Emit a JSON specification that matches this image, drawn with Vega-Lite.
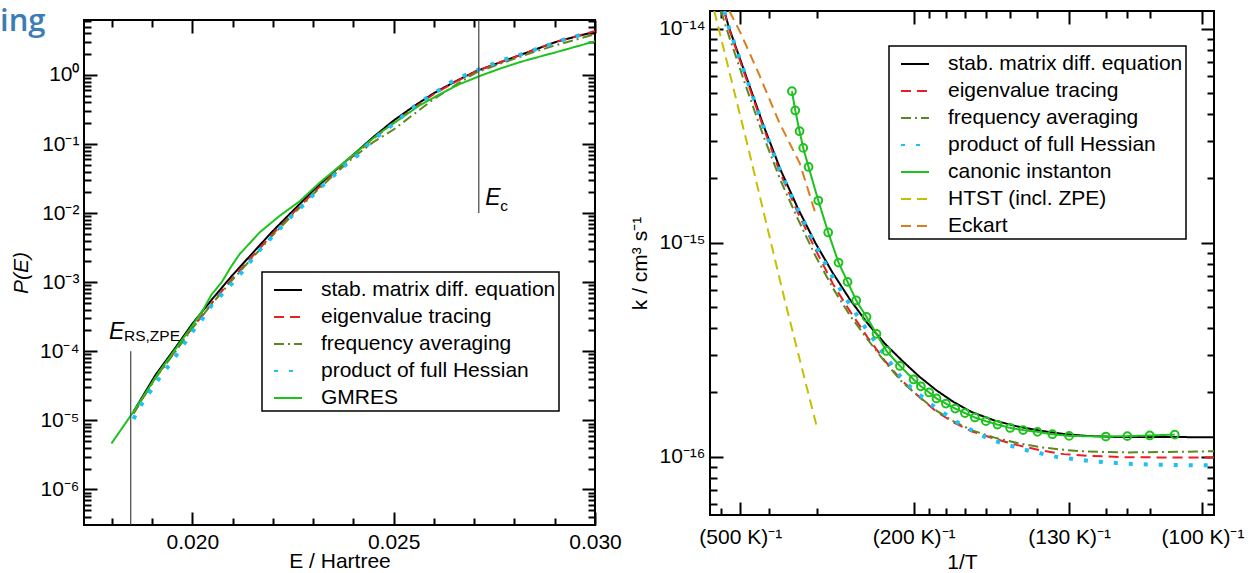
{
  "$schema": "https://vega.github.io/schema/vega-lite/v6.json",
  "padding": {"left": 0, "top": 6, "right": 0, "bottom": 0},
  "spacing": 5,
  "resolve": {"scale": {"color": "independent", "strokeDash": "independent"}, "legend": {"color": "independent", "strokeDash": "independent"}},
  "config": {
    "font": "Liberation Sans",
    "view": {"stroke": "#000", "strokeWidth": 2},
    "axis": {"grid": false, "domain": false, "minExtent": 0, "tickColor": "#000", "tickWidth": 2, "labelFont": "Liberation Sans", "labelFontSize": 21, "labelColor": "#000", "titleFont": "Liberation Sans", "titleFontSize": 21, "titleFontWeight": "normal", "titleColor": "#000", "labelFlush": false, "labelOverlap": false, "labelBound": false},
    "legend": {"padding": 3, "strokeColor": "#000", "strokeWidth": 1.5, "fillColor": "#fff", "cornerRadius": 0, "symbolType": "stroke", "symbolSize": 784, "symbolStrokeWidth": 2, "symbolOffset": 8, "labelFont": "Liberation Sans", "labelFontSize": 21, "labelColor": "#000", "labelOffset": 18, "labelLimit": 400, "rowPadding": 2}
  },
  "datasets": {
    "left": [
      {"s":"stab. matrix diff. equation","E":0.018539,"P":1.340e-5},
      {"s":"stab. matrix diff. equation","E":0.019085,"P":4.539e-5},
      {"s":"stab. matrix diff. equation","E":0.019583,"P":1.132e-4},
      {"s":"stab. matrix diff. equation","E":0.020,"P":2.500e-4},
      {"s":"stab. matrix diff. equation","E":0.020477,"P":5.534e-4},
      {"s":"stab. matrix diff. equation","E":0.020974,"P":1.222e-3},
      {"s":"stab. matrix diff. equation","E":0.021471,"P":2.541e-3},
      {"s":"stab. matrix diff. equation","E":0.021968,"P":5.272e-3},
      {"s":"stab. matrix diff. equation","E":0.022465,"P":1.033e-2},
      {"s":"stab. matrix diff. equation","E":0.023012,"P":2.148e-2},
      {"s":"stab. matrix diff. equation","E":0.023509,"P":3.945e-2},
      {"s":"stab. matrix diff. equation","E":0.024006,"P":7.079e-2},
      {"s":"stab. matrix diff. equation","E":0.024503,"P":0.1274},
      {"s":"stab. matrix diff. equation","E":0.025,"P":0.2188},
      {"s":"stab. matrix diff. equation","E":0.025497,"P":0.3508},
      {"s":"stab. matrix diff. equation","E":0.025994,"P":0.5433},
      {"s":"stab. matrix diff. equation","E":0.026491,"P":0.7834},
      {"s":"stab. matrix diff. equation","E":0.027038,"P":1.130},
      {"s":"stab. matrix diff. equation","E":0.027535,"P":1.442},
      {"s":"stab. matrix diff. equation","E":0.028032,"P":1.841},
      {"s":"stab. matrix diff. equation","E":0.028529,"P":2.350},
      {"s":"stab. matrix diff. equation","E":0.029026,"P":2.999},
      {"s":"stab. matrix diff. equation","E":0.029523,"P":3.597},
      {"s":"stab. matrix diff. equation","E":0.030,"P":4.217},
      {"s":"eigenvalue tracing","E":0.018539,"P":1.259e-5},
      {"s":"eigenvalue tracing","E":0.019085,"P":4.169e-5},
      {"s":"eigenvalue tracing","E":0.019583,"P":1.023e-4},
      {"s":"eigenvalue tracing","E":0.020,"P":2.188e-4},
      {"s":"eigenvalue tracing","E":0.020477,"P":4.898e-4},
      {"s":"eigenvalue tracing","E":0.020974,"P":1.096e-3},
      {"s":"eigenvalue tracing","E":0.021471,"P":2.291e-3},
      {"s":"eigenvalue tracing","E":0.021968,"P":4.786e-3},
      {"s":"eigenvalue tracing","E":0.022465,"P":9.550e-3},
      {"s":"eigenvalue tracing","E":0.023012,"P":1.995e-2},
      {"s":"eigenvalue tracing","E":0.023509,"P":3.715e-2},
      {"s":"eigenvalue tracing","E":0.024006,"P":6.761e-2},
      {"s":"eigenvalue tracing","E":0.024503,"P":0.1202},
      {"s":"eigenvalue tracing","E":0.025,"P":0.2042},
      {"s":"eigenvalue tracing","E":0.025497,"P":0.3311},
      {"s":"eigenvalue tracing","E":0.025994,"P":0.5248},
      {"s":"eigenvalue tracing","E":0.026491,"P":0.7674},
      {"s":"eigenvalue tracing","E":0.027038,"P":1.122},
      {"s":"eigenvalue tracing","E":0.027535,"P":1.445},
      {"s":"eigenvalue tracing","E":0.028032,"P":1.841},
      {"s":"eigenvalue tracing","E":0.028529,"P":2.355},
      {"s":"eigenvalue tracing","E":0.029026,"P":3.020},
      {"s":"eigenvalue tracing","E":0.029523,"P":3.631},
      {"s":"eigenvalue tracing","E":0.030,"P":4.315},
      {"s":"frequency averaging","E":0.018539,"P":1.259e-5},
      {"s":"frequency averaging","E":0.019085,"P":4.074e-5},
      {"s":"frequency averaging","E":0.019583,"P":1.0e-4},
      {"s":"frequency averaging","E":0.020,"P":2.138e-4},
      {"s":"frequency averaging","E":0.020477,"P":4.786e-4},
      {"s":"frequency averaging","E":0.020974,"P":1.047e-3},
      {"s":"frequency averaging","E":0.021471,"P":2.188e-3},
      {"s":"frequency averaging","E":0.021968,"P":4.571e-3},
      {"s":"frequency averaging","E":0.022465,"P":9.120e-3},
      {"s":"frequency averaging","E":0.023012,"P":1.905e-2},
      {"s":"frequency averaging","E":0.023509,"P":3.548e-2},
      {"s":"frequency averaging","E":0.024006,"P":6.457e-2},
      {"s":"frequency averaging","E":0.024503,"P":0.1072},
      {"s":"frequency averaging","E":0.025,"P":0.1622},
      {"s":"frequency averaging","E":0.025497,"P":0.2692},
      {"s":"frequency averaging","E":0.025994,"P":0.4467},
      {"s":"frequency averaging","E":0.026491,"P":0.6918},
      {"s":"frequency averaging","E":0.027038,"P":1.072},
      {"s":"frequency averaging","E":0.027535,"P":1.380},
      {"s":"frequency averaging","E":0.028032,"P":1.738},
      {"s":"frequency averaging","E":0.028529,"P":2.188},
      {"s":"frequency averaging","E":0.029026,"P":2.692},
      {"s":"frequency averaging","E":0.029523,"P":3.236},
      {"s":"frequency averaging","E":0.030,"P":3.890},
      {"s":"product of full Hessian","E":0.018539,"P":1.050e-5},
      {"s":"product of full Hessian","E":0.018738,"P":1.710e-5},
      {"s":"product of full Hessian","E":0.018986,"P":2.786e-5},
      {"s":"product of full Hessian","E":0.019235,"P":4.539e-5},
      {"s":"product of full Hessian","E":0.019483,"P":6.950e-5},
      {"s":"product of full Hessian","E":0.019732,"P":1.132e-4},
      {"s":"product of full Hessian","E":0.01998,"P":1.845e-4},
      {"s":"product of full Hessian","E":0.020229,"P":2.825e-4},
      {"s":"product of full Hessian","E":0.020477,"P":4.603e-4},
      {"s":"product of full Hessian","E":0.020775,"P":7.063e-4},
      {"s":"product of full Hessian","E":0.021074,"P":1.081e-3},
      {"s":"product of full Hessian","E":0.021372,"P":1.762e-3},
      {"s":"product of full Hessian","E":0.02162,"P":2.698e-3},
      {"s":"product of full Hessian","E":0.021918,"P":4.140e-3},
      {"s":"product of full Hessian","E":0.022217,"P":6.339e-3},
      {"s":"product of full Hessian","E":0.022515,"P":9.705e-3},
      {"s":"product of full Hessian","E":0.022813,"P":1.400e-2},
      {"s":"product of full Hessian","E":0.023111,"P":2.148e-2},
      {"s":"product of full Hessian","E":0.02341,"P":3.090e-2},
      {"s":"product of full Hessian","E":0.023757,"P":4.742e-2},
      {"s":"product of full Hessian","E":0.024105,"P":6.839e-2},
      {"s":"product of full Hessian","E":0.024404,"P":0.1047},
      {"s":"product of full Hessian","E":0.024751,"P":0.1510},
      {"s":"product of full Hessian","E":0.025099,"P":0.2178},
      {"s":"product of full Hessian","E":0.025398,"P":0.3141},
      {"s":"product of full Hessian","E":0.025746,"P":0.4365},
      {"s":"product of full Hessian","E":0.026143,"P":0.6138},
      {"s":"product of full Hessian","E":0.026491,"P":0.8337},
      {"s":"product of full Hessian","E":0.026889,"P":1.062},
      {"s":"product of full Hessian","E":0.027286,"P":1.309},
      {"s":"product of full Hessian","E":0.027684,"P":1.629},
      {"s":"product of full Hessian","E":0.028082,"P":1.910},
      {"s":"product of full Hessian","E":0.028529,"P":2.350},
      {"s":"product of full Hessian","E":0.028926,"P":2.818},
      {"s":"product of full Hessian","E":0.029324,"P":3.388},
      {"s":"product of full Hessian","E":0.029771,"P":3.963},
      {"s":"GMRES","E":0.017992,"P":4.634e-6},
      {"s":"GMRES","E":0.018509,"P":1.262e-5},
      {"s":"GMRES","E":0.019185,"P":5.129e-5},
      {"s":"GMRES","E":0.020,"P":2.355e-4},
      {"s":"GMRES","E":0.020278,"P":4.074e-4},
      {"s":"GMRES","E":0.020477,"P":6.637e-4},
      {"s":"GMRES","E":0.020726,"P":9.931e-4},
      {"s":"GMRES","E":0.020974,"P":1.718e-3},
      {"s":"GMRES","E":0.021173,"P":2.541e-3},
      {"s":"GMRES","E":0.02167,"P":5.248e-3},
      {"s":"GMRES","E":0.022167,"P":9.120e-3},
      {"s":"GMRES","E":0.022664,"P":1.479e-2},
      {"s":"GMRES","E":0.023161,"P":2.754e-2},
      {"s":"GMRES","E":0.023658,"P":4.786e-2},
      {"s":"GMRES","E":0.024155,"P":8.318e-2},
      {"s":"GMRES","E":0.024652,"P":0.1445},
      {"s":"GMRES","E":0.02515,"P":0.2291},
      {"s":"GMRES","E":0.025646,"P":0.3631},
      {"s":"GMRES","E":0.026143,"P":0.5248},
      {"s":"GMRES","E":0.02664,"P":0.7379},
      {"s":"GMRES","E":0.027137,"P":0.9638},
      {"s":"GMRES","E":0.027634,"P":1.230},
      {"s":"GMRES","E":0.028131,"P":1.531},
      {"s":"GMRES","E":0.028628,"P":1.841},
      {"s":"GMRES","E":0.029125,"P":2.208},
      {"s":"GMRES","E":0.030,"P":3.069}
    ],
    "right": [
      {"s":"stab. matrix diff. equation","x":0.001723,"k":1.213e-14},
      {"s":"stab. matrix diff. equation","x":0.00180,"k":1.023e-14},
      {"s":"stab. matrix diff. equation","x":0.00210,"k":6.026e-15},
      {"s":"stab. matrix diff. equation","x":0.00240,"k":3.548e-15},
      {"s":"stab. matrix diff. equation","x":0.00270,"k":2.188e-15},
      {"s":"stab. matrix diff. equation","x":0.00300,"k":1.445e-15},
      {"s":"stab. matrix diff. equation","x":0.00330,"k":1.0e-15},
      {"s":"stab. matrix diff. equation","x":0.00360,"k":7.244e-16},
      {"s":"stab. matrix diff. equation","x":0.00390,"k":5.433e-16},
      {"s":"stab. matrix diff. equation","x":0.00420,"k":4.217e-16},
      {"s":"stab. matrix diff. equation","x":0.00450,"k":3.388e-16},
      {"s":"stab. matrix diff. equation","x":0.00480,"k":2.818e-16},
      {"s":"stab. matrix diff. equation","x":0.00510,"k":2.371e-16},
      {"s":"stab. matrix diff. equation","x":0.00540,"k":2.042e-16},
      {"s":"stab. matrix diff. equation","x":0.00570,"k":1.799e-16},
      {"s":"stab. matrix diff. equation","x":0.00600,"k":1.622e-16},
      {"s":"stab. matrix diff. equation","x":0.00640,"k":1.479e-16},
      {"s":"stab. matrix diff. equation","x":0.00680,"k":1.387e-16},
      {"s":"stab. matrix diff. equation","x":0.00720,"k":1.324e-16},
      {"s":"stab. matrix diff. equation","x":0.00760,"k":1.279e-16},
      {"s":"stab. matrix diff. equation","x":0.00800,"k":1.253e-16},
      {"s":"stab. matrix diff. equation","x":0.00850,"k":1.239e-16},
      {"s":"stab. matrix diff. equation","x":0.01020,"k":1.236e-16},
      {"s":"eigenvalue tracing","x":0.001723,"k":1.213e-14},
      {"s":"eigenvalue tracing","x":0.00180,"k":1.012e-14},
      {"s":"eigenvalue tracing","x":0.00210,"k":5.888e-15},
      {"s":"eigenvalue tracing","x":0.00240,"k":3.467e-15},
      {"s":"eigenvalue tracing","x":0.00270,"k":2.089e-15},
      {"s":"eigenvalue tracing","x":0.00300,"k":1.380e-15},
      {"s":"eigenvalue tracing","x":0.00330,"k":9.333e-16},
      {"s":"eigenvalue tracing","x":0.00360,"k":6.457e-16},
      {"s":"eigenvalue tracing","x":0.00390,"k":4.786e-16},
      {"s":"eigenvalue tracing","x":0.00420,"k":3.631e-16},
      {"s":"eigenvalue tracing","x":0.00450,"k":2.818e-16},
      {"s":"eigenvalue tracing","x":0.00480,"k":2.269e-16},
      {"s":"eigenvalue tracing","x":0.00510,"k":1.905e-16},
      {"s":"eigenvalue tracing","x":0.00540,"k":1.622e-16},
      {"s":"eigenvalue tracing","x":0.00570,"k":1.445e-16},
      {"s":"eigenvalue tracing","x":0.00600,"k":1.318e-16},
      {"s":"eigenvalue tracing","x":0.00640,"k":1.216e-16},
      {"s":"eigenvalue tracing","x":0.00680,"k":1.135e-16},
      {"s":"eigenvalue tracing","x":0.00720,"k":1.072e-16},
      {"s":"eigenvalue tracing","x":0.00760,"k":1.030e-16},
      {"s":"eigenvalue tracing","x":0.00800,"k":1.012e-16},
      {"s":"eigenvalue tracing","x":0.00870,"k":9.954e-17},
      {"s":"eigenvalue tracing","x":0.01020,"k":9.931e-17},
      {"s":"frequency averaging","x":0.001666,"k":1.213e-14},
      {"s":"frequency averaging","x":0.00180,"k":9.333e-15},
      {"s":"frequency averaging","x":0.00210,"k":5.370e-15},
      {"s":"frequency averaging","x":0.00240,"k":3.162e-15},
      {"s":"frequency averaging","x":0.00270,"k":1.950e-15},
      {"s":"frequency averaging","x":0.00300,"k":1.288e-15},
      {"s":"frequency averaging","x":0.00330,"k":8.710e-16},
      {"s":"frequency averaging","x":0.00360,"k":6.166e-16},
      {"s":"frequency averaging","x":0.00390,"k":4.571e-16},
      {"s":"frequency averaging","x":0.00420,"k":3.548e-16},
      {"s":"frequency averaging","x":0.00450,"k":2.786e-16},
      {"s":"frequency averaging","x":0.00480,"k":2.239e-16},
      {"s":"frequency averaging","x":0.00510,"k":1.905e-16},
      {"s":"frequency averaging","x":0.00540,"k":1.641e-16},
      {"s":"frequency averaging","x":0.00570,"k":1.462e-16},
      {"s":"frequency averaging","x":0.00600,"k":1.334e-16},
      {"s":"frequency averaging","x":0.00640,"k":1.230e-16},
      {"s":"frequency averaging","x":0.00680,"k":1.161e-16},
      {"s":"frequency averaging","x":0.00720,"k":1.109e-16},
      {"s":"frequency averaging","x":0.00760,"k":1.079e-16},
      {"s":"frequency averaging","x":0.00800,"k":1.059e-16},
      {"s":"frequency averaging","x":0.00870,"k":1.049e-16},
      {"s":"frequency averaging","x":0.01020,"k":1.062e-16},
      {"s":"product of full Hessian","x":0.001723,"k":1.213e-14},
      {"s":"product of full Hessian","x":0.00180,"k":1.023e-14},
      {"s":"product of full Hessian","x":0.00210,"k":5.957e-15},
      {"s":"product of full Hessian","x":0.00240,"k":3.508e-15},
      {"s":"product of full Hessian","x":0.00270,"k":2.138e-15},
      {"s":"product of full Hessian","x":0.00300,"k":1.429e-15},
      {"s":"product of full Hessian","x":0.00330,"k":9.772e-16},
      {"s":"product of full Hessian","x":0.00360,"k":6.918e-16},
      {"s":"product of full Hessian","x":0.00390,"k":5.129e-16},
      {"s":"product of full Hessian","x":0.00420,"k":3.890e-16},
      {"s":"product of full Hessian","x":0.00446,"k":3.090e-16},
      {"s":"product of full Hessian","x":0.00484,"k":2.244e-16},
      {"s":"product of full Hessian","x":0.00530,"k":1.762e-16},
      {"s":"product of full Hessian","x":0.00579,"k":1.432e-16},
      {"s":"product of full Hessian","x":0.00631,"k":1.208e-16},
      {"s":"product of full Hessian","x":0.00688,"k":1.086e-16},
      {"s":"product of full Hessian","x":0.00749,"k":9.977e-17},
      {"s":"product of full Hessian","x":0.00807,"k":9.550e-17},
      {"s":"product of full Hessian","x":0.00867,"k":9.290e-17},
      {"s":"product of full Hessian","x":0.00928,"k":9.183e-17},
      {"s":"product of full Hessian","x":0.00986,"k":9.141e-17},
      {"s":"product of full Hessian","x":0.01020,"k":9.120e-17},
      {"s":"canonic instanton","x":0.002894,"k":5.117e-15},
      {"s":"canonic instanton","x":0.002952,"k":4.159e-15},
      {"s":"canonic instanton","x":0.003026,"k":3.327e-15},
      {"s":"canonic instanton","x":0.00309,"k":2.780e-15},
      {"s":"canonic instanton","x":0.003182,"k":2.265e-15},
      {"s":"canonic instanton","x":0.00335,"k":1.578e-15},
      {"s":"canonic instanton","x":0.003522,"k":1.119e-15},
      {"s":"canonic instanton","x":0.003701,"k":8.091e-16},
      {"s":"canonic instanton","x":0.003857,"k":6.577e-16},
      {"s":"canonic instanton","x":0.004007,"k":5.383e-16},
      {"s":"canonic instanton","x":0.004185,"k":4.508e-16},
      {"s":"canonic instanton","x":0.004358,"k":3.758e-16},
      {"s":"canonic instanton","x":0.004531,"k":3.126e-16},
      {"s":"canonic instanton","x":0.004763,"k":2.661e-16},
      {"s":"canonic instanton","x":0.005,"k":2.301e-16},
      {"s":"canonic instanton","x":0.005126,"k":2.138e-16},
      {"s":"canonic instanton","x":0.00527,"k":2.000e-16},
      {"s":"canonic instanton","x":0.005397,"k":1.875e-16},
      {"s":"canonic instanton","x":0.005559,"k":1.774e-16},
      {"s":"canonic instanton","x":0.00572,"k":1.683e-16},
      {"s":"canonic instanton","x":0.005888,"k":1.603e-16},
      {"s":"canonic instanton","x":0.006061,"k":1.528e-16},
      {"s":"canonic instanton","x":0.006251,"k":1.469e-16},
      {"s":"canonic instanton","x":0.006452,"k":1.416e-16},
      {"s":"canonic instanton","x":0.006671,"k":1.365e-16},
      {"s":"canonic instanton","x":0.006896,"k":1.334e-16},
      {"s":"canonic instanton","x":0.007144,"k":1.309e-16},
      {"s":"canonic instanton","x":0.007403,"k":1.276e-16},
      {"s":"canonic instanton","x":0.007692,"k":1.253e-16},
      {"s":"canonic instanton","x":0.008327,"k":1.245e-16},
      {"s":"canonic instanton","x":0.0087,"k":1.250e-16},
      {"s":"canonic instanton","x":0.009088,"k":1.259e-16},
      {"s":"canonic instanton","x":0.009521,"k":1.271e-16},
      {"s":"HTST (incl. ZPE)","x":0.00155,"k":1.213e-14},
      {"s":"HTST (incl. ZPE)","x":0.002126,"k":2.864e-15},
      {"s":"HTST (incl. ZPE)","x":0.002791,"k":5.117e-16},
      {"s":"HTST (incl. ZPE)","x":0.003325,"k":1.380e-16},
      {"s":"Eckart","x":0.00181,"k":1.213e-14},
      {"s":"Eckart","x":0.00199,"k":9.772e-15},
      {"s":"Eckart","x":0.00233,"k":6.095e-15},
      {"s":"Eckart","x":0.00268,"k":3.631e-15},
      {"s":"Eckart","x":0.00303,"k":2.355e-15},
      {"s":"Eckart","x":0.00332,"k":1.324e-15}
    ]
  },
  "hconcat": [
    {
      "vconcat": [
        {
          "width": 511,
          "height": 2,
          "view": {"stroke": null},
          "title": {"text": "ing", "anchor": "start", "frame": "group", "dx": -84, "offset": -32, "fontSize": 31, "font": "Open Sans", "color": "#3b7db4", "fontWeight": 600},
          "data": {"values": [{"t": ""}]},
          "mark": {"type": "text"},
          "encoding": {"text": {"field": "t"}}
        },
        {
          "width": 511,
          "height": 505,
          "resolve": {"axis": {"x": "independent", "y": "independent"}},
          "layer": [
            {
              "data": {"name": "left"},
              "transform": [{"filter": "datum.s !== 'product of full Hessian'"}],
              "mark": {"type": "line", "strokeWidth": 2, "clip": true},
              "encoding": {
                "x": {"field": "E", "type": "quantitative", "scale": {"domain": [0.01731, 0.030], "nice": false, "zero": false},
                      "axis": {"orient": "bottom", "values": [0.02, 0.025, 0.03], "format": ".3f", "tickSize": -13, "labelPadding": 19, "title": "E / Hartree", "titlePadding": -2}},
                "y": {"field": "P", "type": "quantitative", "scale": {"type": "log", "domain": [3.06e-7, 6.24], "nice": false},
                      "axis": {"orient": "left", "values": [1e-6, 1e-5, 1e-4, 0.001, 0.01, 0.1, 1], "tickSize": -13, "labelPadding": 18, "title": "P(E)", "titleFontStyle": "italic", "titlePadding": 8,
                               "labelExpr": "datum.value > 0.5 ? '10⁰' : datum.value > 0.05 ? '10⁻¹' : datum.value > 0.005 ? '10⁻²' : datum.value > 0.0005 ? '10⁻³' : datum.value > 0.00005 ? '10⁻⁴' : datum.value > 0.000005 ? '10⁻⁵' : '10⁻⁶'"}},
                "color": {"field": "s", "type": "nominal",
                          "scale": {"domain": ["stab. matrix diff. equation", "eigenvalue tracing", "frequency averaging", "product of full Hessian", "GMRES"], "range": ["#000000", "#ec1c2a", "#5a8a1e", "#1ec0f5", "#1ec21e"]},
                          "legend": {"orient": "none", "legendX": 178, "legendY": 261, "title": null}},
                "strokeDash": {"field": "s", "type": "nominal",
                          "scale": {"domain": ["stab. matrix diff. equation", "eigenvalue tracing", "frequency averaging", "product of full Hessian", "GMRES"], "range": [[1, 0], [10, 6], [10, 4, 2, 4], [4, 11], [1, 0]]},
                          "legend": {"orient": "none", "legendX": 178, "legendY": 261, "title": null}}
              }
            },
            {
              "data": {"name": "left"},
              "transform": [{"filter": "datum.s === 'product of full Hessian'"}],
              "mark": {"type": "line", "strokeWidth": 4, "strokeCap": "butt", "clip": true},
              "encoding": {
                "x": {"field": "E", "type": "quantitative", "scale": {"domain": [0.01731, 0.030], "nice": false, "zero": false}, "axis": null},
                "y": {"field": "P", "type": "quantitative", "scale": {"type": "log", "domain": [3.06e-7, 6.24], "nice": false}, "axis": null},
                "color": {"field": "s", "type": "nominal",
                          "scale": {"domain": ["stab. matrix diff. equation", "eigenvalue tracing", "frequency averaging", "product of full Hessian", "GMRES"], "range": ["#000000", "#ec1c2a", "#5a8a1e", "#1ec0f5", "#1ec21e"]},
                          "legend": {"orient": "none", "legendX": 178, "legendY": 261, "title": null}},
                "strokeDash": {"field": "s", "type": "nominal",
                          "scale": {"domain": ["stab. matrix diff. equation", "eigenvalue tracing", "frequency averaging", "product of full Hessian", "GMRES"], "range": [[1, 0], [10, 6], [10, 4, 2, 4], [4, 11], [1, 0]]},
                          "legend": {"orient": "none", "legendX": 178, "legendY": 261, "title": null}}
              }
            },
            {
              "data": {"values": [{"E": 0.01847, "P1": 1e-4, "P2": 3.06e-7}, {"E": 0.027114, "P1": 0.01, "P2": 6.24}]},
              "mark": {"type": "rule", "color": "#444", "strokeWidth": 1.2, "clip": true},
              "encoding": {
                "x": {"field": "E", "type": "quantitative", "scale": {"domain": [0.01731, 0.030], "nice": false, "zero": false}, "axis": null},
                "y": {"field": "P1", "type": "quantitative", "scale": {"type": "log", "domain": [3.06e-7, 6.24], "nice": false}, "axis": null},
                "y2": {"field": "P2"}
              }
            },
            {
              "data": {"values": [{"E": 0.017931, "P": 1.507e-4, "t": "E"}, {"E": 0.027273, "P": 0.01324, "t": "E"}]},
              "mark": {"type": "text", "align": "left", "baseline": "alphabetic", "fontStyle": "italic", "fontSize": 23, "font": "Liberation Sans", "color": "#000"},
              "encoding": {
                "x": {"field": "E", "type": "quantitative", "scale": {"domain": [0.01731, 0.030], "nice": false, "zero": false}, "axis": null},
                "y": {"field": "P", "type": "quantitative", "scale": {"type": "log", "domain": [3.06e-7, 6.24], "nice": false}, "axis": null},
                "text": {"field": "t"}
              }
            },
            {
              "data": {"values": [{"E": 0.017931, "P": 1.507e-4, "t": "RS,ZPE"}]},
              "mark": {"type": "text", "align": "left", "baseline": "alphabetic", "fontSize": 15.5, "font": "Liberation Sans", "color": "#000", "dx": 15, "dy": 2},
              "encoding": {
                "x": {"field": "E", "type": "quantitative", "scale": {"domain": [0.01731, 0.030], "nice": false, "zero": false}, "axis": null},
                "y": {"field": "P", "type": "quantitative", "scale": {"type": "log", "domain": [3.06e-7, 6.24], "nice": false}, "axis": null},
                "text": {"field": "t"}
              }
            },
            {
              "data": {"values": [{"E": 0.027273, "P": 0.01324, "t": "c"}]},
              "mark": {"type": "text", "align": "left", "baseline": "alphabetic", "fontSize": 15.5, "font": "Liberation Sans", "color": "#000", "dx": 15, "dy": 6},
              "encoding": {
                "x": {"field": "E", "type": "quantitative", "scale": {"domain": [0.01731, 0.030], "nice": false, "zero": false}, "axis": null},
                "y": {"field": "P", "type": "quantitative", "scale": {"type": "log", "domain": [3.06e-7, 6.24], "nice": false}, "axis": null},
                "text": {"field": "t"}
              }
            },
            {
              "data": {"name": "left"},
              "mark": {"type": "point", "opacity": 0, "size": 1},
              "encoding": {
                "x": {"field": "E", "type": "quantitative", "scale": {"domain": [0.01731, 0.030], "nice": false, "zero": false},
                      "axis": {"orient": "bottom", "values": [0.018, 0.019, 0.021, 0.022, 0.023, 0.024, 0.026, 0.027, 0.028, 0.029], "tickSize": -7, "labels": false, "title": null}},
                "y": {"field": "P", "type": "quantitative", "scale": {"type": "log", "domain": [3.06e-7, 6.24], "nice": false},
                      "axis": {"orient": "left", "values": [4e-7, 5e-7, 6e-7, 7e-7, 8e-7, 9e-7, 2e-6, 3e-6, 4e-6, 5e-6, 6e-6, 7e-6, 8e-6, 9e-6, 2e-5, 3e-5, 4e-5, 5e-5, 6e-5, 7e-5, 8e-5, 9e-5, 2e-4, 3e-4, 4e-4, 5e-4, 6e-4, 7e-4, 8e-4, 9e-4, 0.002, 0.003, 0.004, 0.005, 0.006, 0.007, 0.008, 0.009, 0.02, 0.03, 0.04, 0.05, 0.06, 0.07, 0.08, 0.09, 0.2, 0.3, 0.4, 0.5, 0.6, 0.7, 0.8, 0.9, 2, 3, 4, 5, 6], "tickSize": -7, "labels": false, "title": null}}
              }
            },
            {
              "data": {"name": "left"},
              "mark": {"type": "point", "opacity": 0, "size": 1},
              "encoding": {
                "x": {"field": "E", "type": "quantitative", "scale": {"domain": [0.01731, 0.030], "nice": false, "zero": false},
                      "axis": {"orient": "top", "values": [0.02, 0.025, 0.03], "tickSize": -13, "labels": false, "title": null}},
                "y": {"field": "P", "type": "quantitative", "scale": {"type": "log", "domain": [3.06e-7, 6.24], "nice": false},
                      "axis": {"orient": "right", "values": [1e-6, 1e-5, 1e-4, 0.001, 0.01, 0.1, 1], "tickSize": -13, "labels": false, "title": null}}
              }
            },
            {
              "data": {"name": "left"},
              "mark": {"type": "point", "opacity": 0, "size": 1},
              "encoding": {
                "x": {"field": "E", "type": "quantitative", "scale": {"domain": [0.01731, 0.030], "nice": false, "zero": false},
                      "axis": {"orient": "top", "values": [0.018, 0.019, 0.021, 0.022, 0.023, 0.024, 0.026, 0.027, 0.028, 0.029], "tickSize": -7, "labels": false, "title": null}},
                "y": {"field": "P", "type": "quantitative", "scale": {"type": "log", "domain": [3.06e-7, 6.24], "nice": false},
                      "axis": {"orient": "right", "values": [4e-7, 5e-7, 6e-7, 7e-7, 8e-7, 9e-7, 2e-6, 3e-6, 4e-6, 5e-6, 6e-6, 7e-6, 8e-6, 9e-6, 2e-5, 3e-5, 4e-5, 5e-5, 6e-5, 7e-5, 8e-5, 9e-5, 2e-4, 3e-4, 4e-4, 5e-4, 6e-4, 7e-4, 8e-4, 9e-4, 0.002, 0.003, 0.004, 0.005, 0.006, 0.007, 0.008, 0.009, 0.02, 0.03, 0.04, 0.05, 0.06, 0.07, 0.08, 0.09, 0.2, 0.3, 0.4, 0.5, 0.6, 0.7, 0.8, 0.9, 2, 3, 4, 5, 6], "tickSize": -7, "labels": false, "title": null}}
              }
            }
          ]
        }
      ],
      "spacing": 7,
      "bounds": "flush"
    },
    {
      "width": 504,
      "height": 504,
      "resolve": {"axis": {"x": "independent", "y": "independent"}},
      "layer": [
        {
          "data": {"name": "right"},
          "transform": [{"filter": "datum.s !== 'product of full Hessian'"}],
          "mark": {"type": "line", "strokeWidth": 2, "clip": true},
          "encoding": {
            "x": {"field": "x", "type": "quantitative", "scale": {"domain": [0.001476, 0.0102], "nice": false, "zero": false},
                  "axis": {"orient": "bottom", "values": [0.002, 0.005, 0.007692307692, 0.01], "labelExpr": "'(' + round(1/datum.value) + ' K)⁻¹'", "tickSize": -13, "labelPadding": 24, "title": "1/T", "titlePadding": 4}},
            "y": {"field": "k", "type": "quantitative", "scale": {"type": "log", "domain": [5.35e-17, 1.213e-14], "nice": false},
                  "axis": {"orient": "left", "values": [1e-16, 1e-15, 1e-14], "tickSize": -13, "labelPadding": 18, "title": "k / cm³ s⁻¹", "titlePadding": 8,
                           "labelExpr": "datum.value > 5e-15 ? '10⁻¹⁴' : datum.value > 5e-16 ? '10⁻¹⁵' : '10⁻¹⁶'"}},
            "color": {"field": "s", "type": "nominal",
                      "scale": {"domain": ["stab. matrix diff. equation", "eigenvalue tracing", "frequency averaging", "product of full Hessian", "canonic instanton", "HTST (incl. ZPE)", "Eckart"], "range": ["#000000", "#ec1c2a", "#5a8a1e", "#1ec0f5", "#1ec21e", "#c6bf00", "#d97e1e"]},
                      "legend": {"orient": "none", "legendX": 179, "legendY": 35, "title": null}},
            "strokeDash": {"field": "s", "type": "nominal",
                      "scale": {"domain": ["stab. matrix diff. equation", "eigenvalue tracing", "frequency averaging", "product of full Hessian", "canonic instanton", "HTST (incl. ZPE)", "Eckart"], "range": [[1, 0], [10, 6], [10, 4, 2, 4], [4, 11], [1, 0], [10, 6], [10, 6]]},
                      "legend": {"orient": "none", "legendX": 179, "legendY": 35, "title": null}}
          }
        },
        {
          "data": {"name": "right"},
          "transform": [{"filter": "datum.s === 'product of full Hessian'"}],
          "mark": {"type": "line", "strokeWidth": 4, "strokeCap": "butt", "clip": true},
          "encoding": {
            "x": {"field": "x", "type": "quantitative", "scale": {"domain": [0.001476, 0.0102], "nice": false, "zero": false}, "axis": null},
            "y": {"field": "k", "type": "quantitative", "scale": {"type": "log", "domain": [5.35e-17, 1.213e-14], "nice": false}, "axis": null},
            "color": {"field": "s", "type": "nominal",
                      "scale": {"domain": ["stab. matrix diff. equation", "eigenvalue tracing", "frequency averaging", "product of full Hessian", "canonic instanton", "HTST (incl. ZPE)", "Eckart"], "range": ["#000000", "#ec1c2a", "#5a8a1e", "#1ec0f5", "#1ec21e", "#c6bf00", "#d97e1e"]},
                      "legend": {"orient": "none", "legendX": 179, "legendY": 35, "title": null}},
            "strokeDash": {"field": "s", "type": "nominal",
                      "scale": {"domain": ["stab. matrix diff. equation", "eigenvalue tracing", "frequency averaging", "product of full Hessian", "canonic instanton", "HTST (incl. ZPE)", "Eckart"], "range": [[1, 0], [10, 6], [10, 4, 2, 4], [4, 11], [1, 0], [10, 6], [10, 6]]},
                      "legend": {"orient": "none", "legendX": 179, "legendY": 35, "title": null}}
          }
        },
        {
          "data": {"name": "right"},
          "transform": [{"filter": "datum.s === 'canonic instanton'"}],
          "mark": {"type": "point", "shape": "circle", "filled": false, "color": "#1ec21e", "opacity": 1, "size": 60, "strokeWidth": 2, "clip": true},
          "encoding": {
            "x": {"field": "x", "type": "quantitative", "scale": {"domain": [0.001476, 0.0102], "nice": false, "zero": false}, "axis": null},
            "y": {"field": "k", "type": "quantitative", "scale": {"type": "log", "domain": [5.35e-17, 1.213e-14], "nice": false}, "axis": null}
          }
        },
        {
          "data": {"name": "right"},
          "mark": {"type": "point", "opacity": 0, "size": 1},
          "encoding": {
            "x": {"field": "x", "type": "quantitative", "scale": {"domain": [0.001476, 0.0102], "nice": false, "zero": false},
                  "axis": {"orient": "bottom", "values": [0.0016667, 0.0025, 0.0033333, 0.0052632, 0.0055556, 0.0058824, 0.00625, 0.0066667, 0.0071429, 0.0083333, 0.0086957, 0.0090909], "tickSize": -7, "labels": false, "title": null}},
            "y": {"field": "k", "type": "quantitative", "scale": {"type": "log", "domain": [5.35e-17, 1.213e-14], "nice": false},
                  "axis": {"orient": "left", "values": [6e-17, 7e-17, 8e-17, 9e-17, 2e-16, 3e-16, 4e-16, 5e-16, 6e-16, 7e-16, 8e-16, 9e-16, 2e-15, 3e-15, 4e-15, 5e-15, 6e-15, 7e-15, 8e-15, 9e-15], "tickSize": -7, "labels": false, "title": null}}
          }
        },
        {
          "data": {"name": "right"},
          "mark": {"type": "point", "opacity": 0, "size": 1},
          "encoding": {
            "x": {"field": "x", "type": "quantitative", "scale": {"domain": [0.001476, 0.0102], "nice": false, "zero": false},
                  "axis": {"orient": "top", "values": [0.002, 0.005, 0.007692307692, 0.01], "tickSize": -13, "labels": false, "title": null}},
            "y": {"field": "k", "type": "quantitative", "scale": {"type": "log", "domain": [5.35e-17, 1.213e-14], "nice": false},
                  "axis": {"orient": "right", "values": [1e-16, 1e-15, 1e-14], "tickSize": -13, "labels": false, "title": null}}
          }
        },
        {
          "data": {"name": "right"},
          "mark": {"type": "point", "opacity": 0, "size": 1},
          "encoding": {
            "x": {"field": "x", "type": "quantitative", "scale": {"domain": [0.001476, 0.0102], "nice": false, "zero": false},
                  "axis": {"orient": "top", "values": [0.0016667, 0.0025, 0.0033333, 0.0052632, 0.0055556, 0.0058824, 0.00625, 0.0066667, 0.0071429, 0.0083333, 0.0086957, 0.0090909], "tickSize": -7, "labels": false, "title": null}},
            "y": {"field": "k", "type": "quantitative", "scale": {"type": "log", "domain": [5.35e-17, 1.213e-14], "nice": false},
                  "axis": {"orient": "right", "values": [6e-17, 7e-17, 8e-17, 9e-17, 2e-16, 3e-16, 4e-16, 5e-16, 6e-16, 7e-16, 8e-16, 9e-16, 2e-15, 3e-15, 4e-15, 5e-15, 6e-15, 7e-15, 8e-15, 9e-15], "tickSize": -7, "labels": false, "title": null}}
          }
        }
      ]
    }
  ]
}
